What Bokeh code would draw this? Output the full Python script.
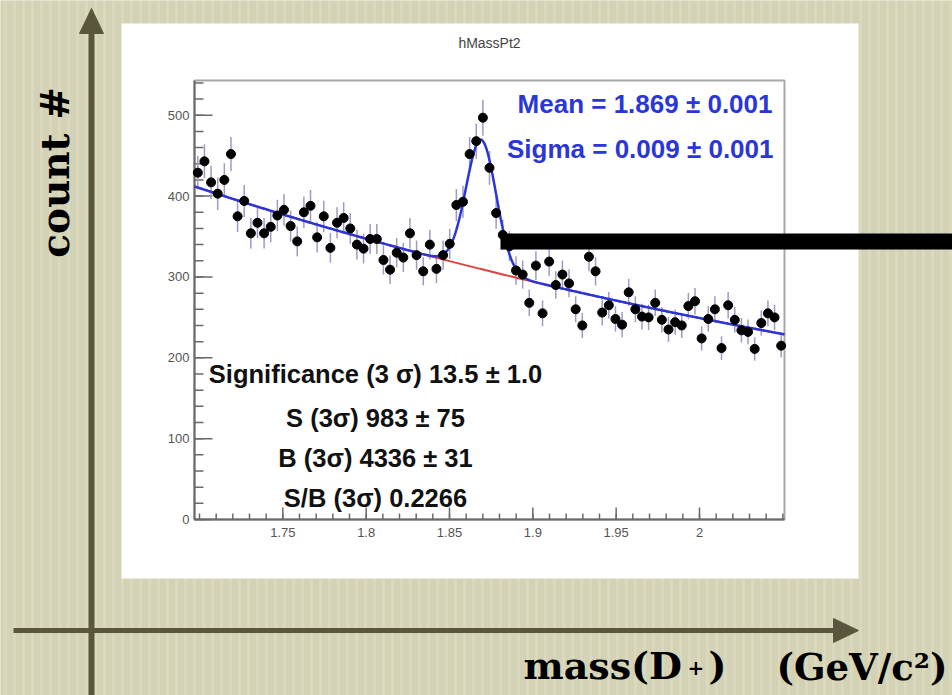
import math
import numpy as np
from bokeh.plotting import figure
from bokeh.models import Range1d, ColumnDataSource
from bokeh.core.properties import value
from bokeh.embed import file_html
from bokeh.resources import INLINE

# ---- histogram hMassPt2: invariant mass of D+ candidates --------------------
mass_lo, mass_hi = 1.697, 2.051
counts = [
    429, 443, 417, 403, 420, 452, 375, 394, 354, 367,
    354, 362, 376, 383, 363, 344, 380, 388, 349, 375,
    336, 367, 373, 360, 340, 335, 347, 347, 321, 309,
    330, 324, 354, 327, 307, 340, 310, 327, 341, 389,
    393, 452, 468, 497, 435, 379, 352, 338, 308, 303,
    268, 314, 255, 319, 290, 303, 292, 260, 240, 325,
    307, 256, 265, 248, 241, 281, 260, 251, 250, 268,
    247, 235, 244, 240, 264, 270, 224, 248, 260, 212,
    265, 247, 234, 232, 211, 243, 255, 250, 215,
]

# ---- fit: gaussian signal on exponential background ------------------------
fit_mean = 1.869
fit_sigma = 0.009
fit_amp = 160.0
bkg_at_lo = 412.0
bkg_at_hi = 229.0

fit_lines = ["Mean = 1.869 \u00b1 0.001", "Sigma = 0.009 \u00b1 0.001"]
stat_lines = [
    "Significance (3 \u03c3) 13.5 \u00b1 1.0",
    "S (3\u03c3) 983 \u00b1 75",
    "B (3\u03c3) 4336 \u00b1 31",
    "S/B (3\u03c3) 0.2266",
]

x_ticks = [1.75, 1.8, 1.85, 1.9, 1.95, 2.0]
x_tick_labels = ["1.75", "1.8", "1.85", "1.9", "1.95", "2"]
y_ticks = [0, 100, 200, 300, 400, 500]
y_tick_labels = ["0", "100", "200", "300", "400", "500"]
y_max = 543

# ---- page layout, in pixels from the top-left corner of the page ------------
W, H = 952, 695
FL, FR, FT, FB = 194, 784, 80, 519      # histogram frame edges
PANEL = (121, 23, 858, 578)             # white panel behind the histogram
BEIGE = "#d3d2b5"
OLIVE = "#5a563e"
AXIS_GREY = "#6a6a6a"
FIT_BLUE = "#2a36d8"
FIT_RED = "#e2403a"

# page coordinates on the default ranges; histogram coordinates on extra ranges
mpp = (mass_hi - mass_lo) / (FR - FL)
cpp = y_max / (FB - FT)
p = figure(width=W, height=H,
           x_range=Range1d(0, W), y_range=Range1d(H, 0),
           x_axis_location=None, y_axis_location=None,
           min_border=0, output_backend="svg", toolbar_location=None,
           background_fill_color=BEIGE, border_fill_color=BEIGE,
           outline_line_color=None)
p.grid.visible = False
p.extra_x_ranges = {"mass": Range1d(mass_lo - FL * mpp, mass_lo + (W - FL) * mpp)}
p.extra_y_ranges = {"counts": Range1d((FB - H) * cpp, FB * cpp)}
HIST = dict(x_range_name="mass", y_range_name="counts")

# faint vertical grain of the slide paper
p.quad(left=[0], right=[W], top=[0], bottom=[H], fill_color=BEIGE,
       line_color=None, hatch_pattern="|", hatch_color="#e3e2cc",
       hatch_alpha=0.45, hatch_scale=9, hatch_weight=3)

# white panel
p.quad(left=[PANEL[0]], right=[PANEL[2]], top=[PANEL[1]], bottom=[PANEL[3]],
       fill_color="white", line_color=None)

# histogram frame
p.quad(left=[mass_lo], right=[mass_hi], bottom=[0], top=[y_max],
       fill_color=None, line_color="#a8a8a8", line_width=2, **HIST)

# y axis: line, ticks pointing into the frame, labels
p.segment(x0=[mass_lo], x1=[mass_lo], y0=[0], y1=[y_max],
          line_color=AXIS_GREY, line_width=2, **HIST)
y_minor = list(range(0, 541, 20))
p.segment(x0=[FL] * len(y_minor), x1=[FL + 9] * len(y_minor), y0=y_minor, y1=y_minor,
          line_color=AXIS_GREY, line_width=1.5, y_range_name="counts")
p.segment(x0=[FL] * len(y_ticks), x1=[FL + 18] * len(y_ticks), y0=y_ticks, y1=y_ticks,
          line_color=AXIS_GREY, line_width=1.5, y_range_name="counts")
p.text(x=[FL - 5] * len(y_ticks), y=y_ticks, text=y_tick_labels,
       text_font=value("Liberation Sans"), text_font_size="13px",
       text_color="#555555", text_align="right", text_baseline="middle",
       y_range_name="counts")

# x axis
p.segment(x0=[mass_lo], x1=[mass_hi], y0=[0], y1=[0],
          line_color=AXIS_GREY, line_width=2, **HIST)
x_minor = list(np.round(np.arange(1.70, 2.051, 0.01), 3))
p.segment(x0=x_minor, x1=x_minor, y0=[FB] * len(x_minor), y1=[FB - 6] * len(x_minor),
          line_color=AXIS_GREY, line_width=1.5, x_range_name="mass")
p.segment(x0=x_ticks, x1=x_ticks, y0=[FB] * len(x_ticks), y1=[FB - 12] * len(x_ticks),
          line_color=AXIS_GREY, line_width=1.5, x_range_name="mass")
p.text(x=x_ticks, y=[FB + 8] * len(x_ticks), text=x_tick_labels,
       text_font=value("Liberation Sans"), text_font_size="13px",
       text_color="#555555", text_align="center", text_baseline="top",
       x_range_name="mass")

# ---- histogram points with Poisson errors -----------------------------------
bin_w = (mass_hi - mass_lo) / len(counts)
centers = mass_lo + bin_w * (np.arange(len(counts)) + 0.5)
cnt = np.array(counts, dtype=float)
err = np.sqrt(cnt)
src = ColumnDataSource(dict(x=centers, y=cnt, lo=cnt - err, hi=cnt + err))

# ---- fit curves --------------------------------------------------------------
xf = np.linspace(mass_lo, mass_hi, 600)
slope = math.log(bkg_at_hi / bkg_at_lo) / (mass_hi - mass_lo)
bkg = bkg_at_lo * np.exp(slope * (xf - mass_lo))
total = bkg + fit_amp * np.exp(-0.5 * ((xf - fit_mean) / fit_sigma) ** 2)

p.segment(x0="x", y0="lo", x1="x", y1="hi", source=src,
          line_color="#9c9cc6", line_width=1.5, **HIST)
p.line(xf, bkg, line_color=FIT_RED, line_width=2, **HIST)
p.line(xf, total, line_color=FIT_BLUE, line_width=2.5, **HIST)
p.scatter(x="x", y="y", source=src, size=9, marker="circle",
          fill_color="black", line_color="black", **HIST)


def label(X, Y, text, size, font="Liberation Sans", style="normal",
          color="black", align="left", baseline="alphabetic", angle=0.0):
    p.text(x=[X], y=[Y], text=[text], text_font=value(font),
           text_font_size=f"{size}px", text_font_style=style,
           text_color=color, text_align=align, text_baseline=baseline,
           angle=angle)


# histogram title
label(489, 42, "hMassPt2", 14, color="#444444", align="center", baseline="middle")

# fit parameters
label(772, 103, fit_lines[0], 26, style="bold", color=FIT_BLUE, align="right")
label(773, 148, fit_lines[1], 26, style="bold", color=FIT_BLUE, align="right")

# signal / background summary
for Yb, line in zip([373, 417, 457, 497], stat_lines):
    label(375, Yb, line, 25.5, style="bold", color="#111111", align="center")

# ---- slide decorations ---------------------------------------------------------
# pointer bar towards the peak
p.quad(left=[500], right=[W], top=[233], bottom=[249], fill_color="black",
       line_color=None)

# slide axes with arrow heads
p.segment(x0=[91], x1=[91], y0=[H], y1=[30], line_color=OLIVE, line_width=6)
p.patch(x=[91, 79, 103], y=[8, 33, 33], fill_color=OLIVE, line_color=OLIVE)
p.segment(x0=[13], x1=[836], y0=[630], y1=[630], line_color=OLIVE, line_width=5)
p.patch(x=[858, 833, 833], y=[630, 618, 642], fill_color=OLIVE, line_color=OLIVE)

# slide axis titles
label(54, 172, "count #", 39, font="DejaVu Serif", style="bold",
      align="center", angle=math.pi / 2)
label(523, 665, "mass(D", 38, font="DejaVu Serif", style="bold")
label(687, 667, "+", 20, font="DejaVu Serif", style="bold")
label(708, 665, ")", 38, font="DejaVu Serif", style="bold")
label(947, 666, "(GeV/c\u00b2)", 37, font="DejaVu Serif", style="bold", align="right")

open("out.html", "w").write(file_html(p, INLINE))
